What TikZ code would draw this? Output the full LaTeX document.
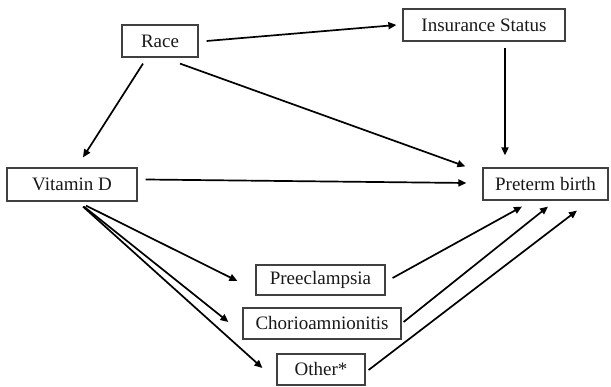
\documentclass[tikz,border=0pt]{standalone}
\usepackage{fontspec}
\setmainfont{Liberation Serif}
\usetikzlibrary{arrows.meta,calc}
\begin{document}
\begin{tikzpicture}[x=1pt,y=-1pt,
 box/.style={draw=black!75,line width=1.2pt,rectangle,inner sep=0pt,font=\fontsize{19}{22}\selectfont,text=black!90},
 arr/.style={line width=1.7pt,-{Triangle[length=8pt,width=7pt]}}]
\useasboundingbox[fill=white] (0,0) rectangle (611,387);
\node[box,minimum width=76pt,minimum height=32pt] (race) at (160,41) {Race};
\node[box,minimum width=162pt,minimum height=32pt] (ins) at (484,25) {Insurance Status};
\node[box,minimum width=130pt,minimum height=33pt] (vitd) at (72,184.5) {Vitamin D};
\node[box,minimum width=125pt,minimum height=32pt] (pb) at (545.5,184) {Preterm birth};
\node[box,minimum width=129pt,minimum height=30pt] (pre) at (320.5,280) {Preeclampsia};
\node[box,minimum width=158pt,minimum height=31pt] (cho) at (322,323.5) {Chorioamnionitis};
\node[box,minimum width=88pt,minimum height=31pt] (oth) at (321,369.5) {Other*};

\draw[arr] ($(race.east)+(8,0)$) -- ($(ins.west)+(-6,0)$);
\draw[arr] ($(race.south)+(-17,6)$) -- ($(vitd.north)+(11,-10)$);
\draw[arr] ($(race.south)+(20,6)$) -- ($(pb.north west)+(-17,-1)$);
\draw[arr] ($(vitd.east)+(8,-5)$) -- ($(pb.west)+(-16,-1)$);
\draw[arr] ($(ins.south)+(21,6)$) -- ($(pb.north)+(-40.5,-12)$);
\draw[arr] ($(vitd.south)+(14,4)$) -- ($(pre.west)+(-18,1)$);
\draw[arr] ($(vitd.south)+(12,5)$) -- ($(cho.west)+(-14,-1.5)$);
\draw[arr] ($(vitd.south)+(11,5)$) -- ($(oth.west)+(-14,-1.5)$);
\draw[arr] ($(pre.east)+(7,-2)$) -- ($(pb.south)+(-23.5,6)$);
\draw[arr] ($(cho.east)+(2,-1.5)$) -- ($(pb.south)+(2.5,6)$);
\draw[arr] ($(oth.east)+(3,0.5)$) -- ($(pb.south)+(31.5,10)$);
\end{tikzpicture}
\end{document}
